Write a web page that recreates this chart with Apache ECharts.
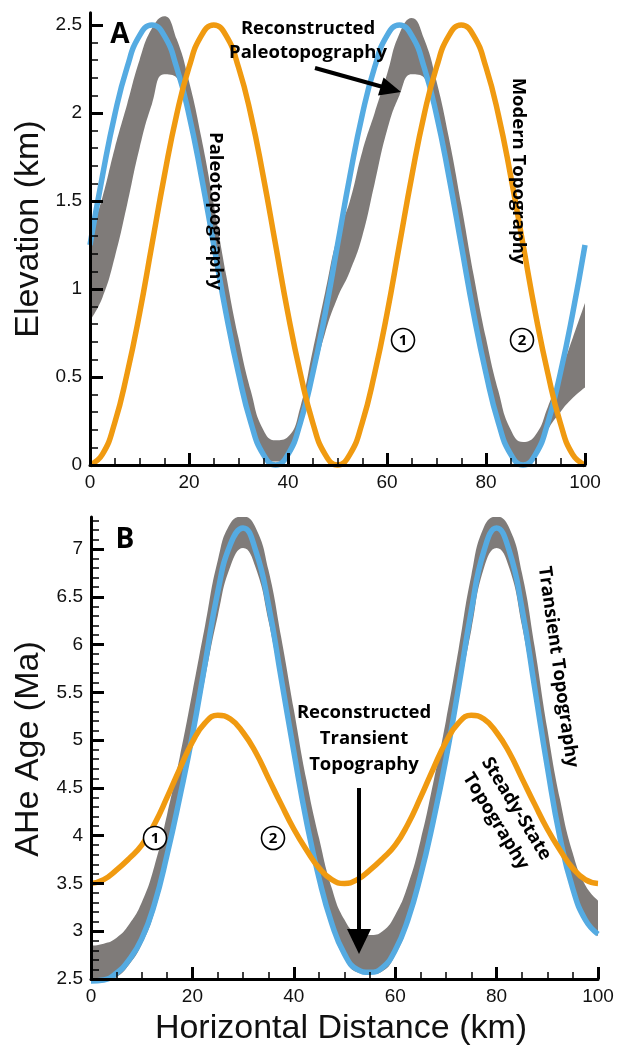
<!DOCTYPE html>
<html><head><meta charset="utf-8">
<script src="https://cdn.jsdelivr.net/npm/echarts@6/dist/echarts.min.js"></script>
<style>html,body{margin:0;padding:0;background:#fff}#c{width:618px;height:1047px}</style>
</head><body><div id="c"></div>
<script>
// ---- data ----
const distance = [0,2.5,5,7.5,10,12.5,15,17.5,20,22.5,25,27.5,30,32.5,35,37.5,40,42.5,45,47.5,50,52.5,55,57.5,60,62.5,65,67.5,70,72.5,75,77.5,80,82.5,85,87.5,90,92.5,95,97.5,100];

// Panel A: elevation (km)
const paleoTopo = [1.25,1.64,1.99,2.26,2.44,2.5,2.44,2.26,1.99,1.64,1.25,0.86,0.52,0.24,0.06,0,0.06,0.24,0.52,0.86,1.25,1.64,1.99,2.26,2.44,2.5,2.44,2.26,1.99,1.64,1.25,0.86,0.52,0.24,0.06,0,0.06,0.24,0.52,0.86,1.25];
const modernTopo = [0,0.06,0.24,0.52,0.86,1.25,1.64,1.99,2.26,2.44,2.5,2.44,2.26,1.99,1.64,1.25,0.86,0.52,0.24,0.06,0,0.06,0.24,0.52,0.86,1.25,1.64,1.99,2.26,2.44,2.5,2.44,2.26,1.99,1.64,1.25,0.86,0.52,0.24,0.06,0];
const reconPaleoUpper = [1.3,1.52,1.8,2.05,2.3,2.48,2.55,2.42,2.18,1.86,1.48,1.08,0.72,0.42,0.2,0.14,0.16,0.33,0.65,0.98,1.3,1.5,1.78,2.0,2.22,2.45,2.54,2.42,2.18,1.86,1.48,1.08,0.72,0.42,0.2,0.13,0.17,0.33,0.52,0.72,0.92];
const reconPaleoLower = [0.82,0.95,1.18,1.48,1.8,2.05,2.22,2.2,1.95,1.6,1.2,0.82,0.48,0.22,0.05,0.02,0.05,0.22,0.48,0.75,0.95,1.1,1.3,1.6,1.9,2.1,2.22,2.2,1.95,1.6,1.2,0.82,0.48,0.22,0.05,0.0,0.05,0.2,0.3,0.38,0.44];

// Panel B: AHe age (Ma)
const transientAge = [2.48,2.49,2.56,2.7,2.92,3.28,3.8,4.4,5.05,5.8,6.55,7.05,7.22,6.98,6.42,5.65,4.88,4.15,3.55,3.08,2.76,2.6,2.57,2.62,2.8,3.12,3.58,4.15,4.8,5.55,6.35,6.98,7.22,6.98,6.38,5.55,4.72,3.98,3.45,3.12,2.97];
const steadyAge = [3.5,3.54,3.64,3.76,3.9,4.12,4.4,4.7,4.98,5.18,5.26,5.22,5.08,4.87,4.6,4.33,4.07,3.85,3.66,3.54,3.5,3.54,3.64,3.76,3.9,4.12,4.4,4.7,4.98,5.18,5.26,5.22,5.08,4.87,4.6,4.33,4.07,3.85,3.66,3.54,3.5];
const reconTransUpper = [2.85,2.87,2.93,3.07,3.3,3.68,4.22,4.82,5.5,6.2,6.88,7.27,7.34,7.22,6.78,6.08,5.32,4.58,3.97,3.45,3.12,2.98,2.96,3.0,3.17,3.48,3.95,4.55,5.2,5.95,6.72,7.23,7.34,7.22,6.75,5.98,5.12,4.38,3.82,3.48,3.32];
const reconTransLower = [2.47,2.47,2.52,2.65,2.86,3.2,3.72,4.32,4.95,5.65,6.3,6.82,7.01,6.8,6.25,5.55,4.8,4.08,3.5,3.03,2.72,2.57,2.55,2.58,2.75,3.06,3.5,4.07,4.72,5.45,6.15,6.8,7.01,6.8,6.2,5.45,4.65,3.92,3.4,3.08,2.95];

// ticks
const xMajorTicks = [0,20,40,60,80,100];
const xMinorTicks = [5,10,15,25,30,35,45,50,55,65,70,75,85,90,95];
const elevTicks = [0,0.5,1,1.5,2,2.5];
const elevMinorTicks = [0.1,0.2,0.3,0.4,0.6,0.7,0.8,0.9,1.1,1.2,1.3,1.4,1.6,1.7,1.8,1.9,2.1,2.2,2.3,2.4];
const ageTicks = [2.5,3,3.5,4,4.5,5,5.5,6,6.5,7];
const ageMinorTicks = [2.6,2.7,2.8,2.9,3.1,3.2,3.3,3.4,3.6,3.7,3.8,3.9,4.1,4.2,4.3,4.4,4.6,4.7,4.8,4.9,5.1,5.2,5.3,5.4,5.6,5.7,5.8,5.9,6.1,6.2,6.3,6.4,6.6,6.7,6.8,6.9,7.1,7.2,7.3];

// ---- chart ----
const BLUE = '#55abe2', ORANGE = '#f09a10', GRAY = '#7f7b79';
const pairs = arr => distance.map((x, i) => [x, arr[i]]);
const lab = {fontFamily: 'Liberation Sans', fontSize: 19, color: '#111'};

function mainX(grid) {
  return {type: 'value', gridIndex: grid, min: 0, max: 100, z: 20,
    axisLine: {show: true, onZero: false, lineStyle: {color: '#000', width: 3}},
    axisTick: {show: true, inside: true, length: 12, lineStyle: {color: '#000', width: 3}, customValues: xMajorTicks},
    axisLabel: Object.assign({margin: 8, customValues: xMajorTicks}, lab),
    splitLine: {show: false}};
}
function minorX(grid) {
  return {type: 'value', gridIndex: grid, min: 0, max: 100, position: 'bottom', z: 20,
    axisLine: {show: false},
    axisTick: {show: true, inside: true, length: 7, lineStyle: {color: '#000', width: 1.5}, customValues: xMinorTicks},
    axisLabel: {show: false}, splitLine: {show: false}};
}
function mainY(grid, min, max, ticks) {
  return {type: 'value', gridIndex: grid, min: min, max: max, position: 'left', z: 20,
    axisLine: {show: true, onZero: false, lineStyle: {color: '#000', width: 3}},
    axisTick: {show: true, inside: true, length: 13, lineStyle: {color: '#000', width: 3}, customValues: ticks},
    axisLabel: Object.assign({margin: 8, customValues: ticks}, lab),
    splitLine: {show: false}};
}
function minorY(grid, min, max, ticks) {
  return {type: 'value', gridIndex: grid, min: min, max: max, position: 'left', z: 20,
    axisLine: {show: false},
    axisTick: {show: true, inside: true, length: 8, lineStyle: {color: '#000', width: 1.5}, customValues: ticks},
    axisLabel: {show: false}, splitLine: {show: false}};
}
function line(data, color, xi, yi, z) {
  return {type: 'line', data: data, xAxisIndex: xi, yAxisIndex: yi, smooth: true, showSymbol: false,
    symbol: 'none', z: z, lineStyle: {color: color, width: 5.5}, clip: false};
}
// band: gray area under the upper edge, then white area under the lower edge
function band(lower, upper, xi, yi) {
  return [
    {type: 'line', data: pairs(upper), xAxisIndex: xi, yAxisIndex: yi, smooth: true,
      symbol: 'none', z: 1, lineStyle: {width: 0, opacity: 0}, areaStyle: {color: GRAY, opacity: 1, origin: 'start'}},
    {type: 'line', data: pairs(lower), xAxisIndex: xi, yAxisIndex: yi, smooth: true,
      symbol: 'none', z: 2, lineStyle: {width: 0, opacity: 0}, areaStyle: {color: '#fff', opacity: 1, origin: 'start'}}
  ];
}

const bold = 'Open Sans';
const AFS = 18.5;
function bigLetter(x, y, t) {
  return {type: 'text', x: x, y: y, z: 100,
    style: {text: t, fontFamily: bold, fontWeight: 'bold', fontSize: 28, fill: '#000', align: 'center', verticalAlign: 'middle'}};
}
function circled(x, y, n) {
  return [
    {type: 'circle', z: 99, shape: {cx: x, cy: y, r: 11.5}, style: {fill: '#fff', stroke: '#000', lineWidth: 1.6}},
    {type: 'text', z: 100, x: x, y: y + 0.5, style: {text: n, fontFamily: bold, fontWeight: 'bold', fontSize: 15, fill: '#000', align: 'center', verticalAlign: 'middle'}}
  ];
}
function rtxt(x, y, text, deg, lh) {
  return {type: 'text', x: x, y: y, rotation: -deg * Math.PI / 180, z: 100,
    style: {text: text, fontFamily: bold, fontWeight: 'bold', fontSize: AFS, lineHeight: lh || 22, fill: '#000', align: 'center', verticalAlign: 'middle'}};
}
function axisName(x, y, text, rot) {
  return {type: 'text', x: x, y: y, rotation: rot, z: 100,
    style: {text: text, fontFamily: 'Liberation Sans', fontSize: 34, fill: '#111', align: 'center', verticalAlign: 'middle'}};
}

const graphic = [].concat(
  [bigLetter(120, 35, 'A'), bigLetter(125, 540, 'B'),
   rtxt(308, 41, 'Reconstructed\nPaleotopography', 0, 24),
   {type: 'line', z: 100, shape: {x1: 315, y1: 68, x2: 383, y2: 87}, style: {stroke: '#000', lineWidth: 4}},
   {type: 'polygon', z: 100, shape: {points: [[401, 92], [378, 95.5], [383.5, 77.5]]}, style: {fill: '#000'}},
   rtxt(215, 211, 'Paleotopography', 90),
   rtxt(518, 171, 'Modern Topography', 90),
   rtxt(364, 739, 'Reconstructed\nTransient\nTopography', 0, 26),
   {type: 'line', z: 100, shape: {x1: 359, y1: 788, x2: 359, y2: 935}, style: {stroke: '#000', lineWidth: 4}},
   {type: 'polygon', z: 100, shape: {points: [[359, 954], [347, 929], [371, 929]]}, style: {fill: '#000'}},
   rtxt(558, 667, 'Transient Topography', 82),
   rtxt(506, 815, 'Steady-State\nTopography', 58.5, 24),
   axisName(29, 229, 'Elevation (km)', Math.PI / 2),
   axisName(29, 749, 'AHe Age (Ma)', Math.PI / 2),
   axisName(341, 1029, 'Horizontal Distance (km)', 0)
  ],
  circled(403, 340, '1'), circled(522, 340, '2'),
  circled(155, 838, '1'), circled(273, 838, '2')
);

const option = {
  animation: false,
  backgroundColor: '#fff',
  grid: [
    {left: 90, right: 33, top: 12.7, bottom: 582},
    {left: 91, right: 20, top: 517, bottom: 68}
  ],
  xAxis: [mainX(0), minorX(0), mainX(1), minorX(1)],
  yAxis: [mainY(0, 0, 2.57, elevTicks), minorY(0, 0, 2.57, elevMinorTicks),
          mainY(1, 2.5, 7.335, ageTicks), minorY(1, 2.5, 7.335, ageMinorTicks)],
  series: [].concat(
    band(reconPaleoLower, reconPaleoUpper, 0, 0),
    [line(pairs(paleoTopo), BLUE, 0, 0, 3), line(pairs(modernTopo), ORANGE, 0, 0, 4)],
    band(reconTransLower, reconTransUpper, 2, 2),
    [line(pairs(transientAge), BLUE, 2, 2, 3), line(pairs(steadyAge), ORANGE, 2, 2, 4)]
  ),
  graphic: graphic
};
const chart = echarts.init(document.getElementById('c'), null, {renderer: 'canvas'});
chart.setOption(option);
</script></body></html>
